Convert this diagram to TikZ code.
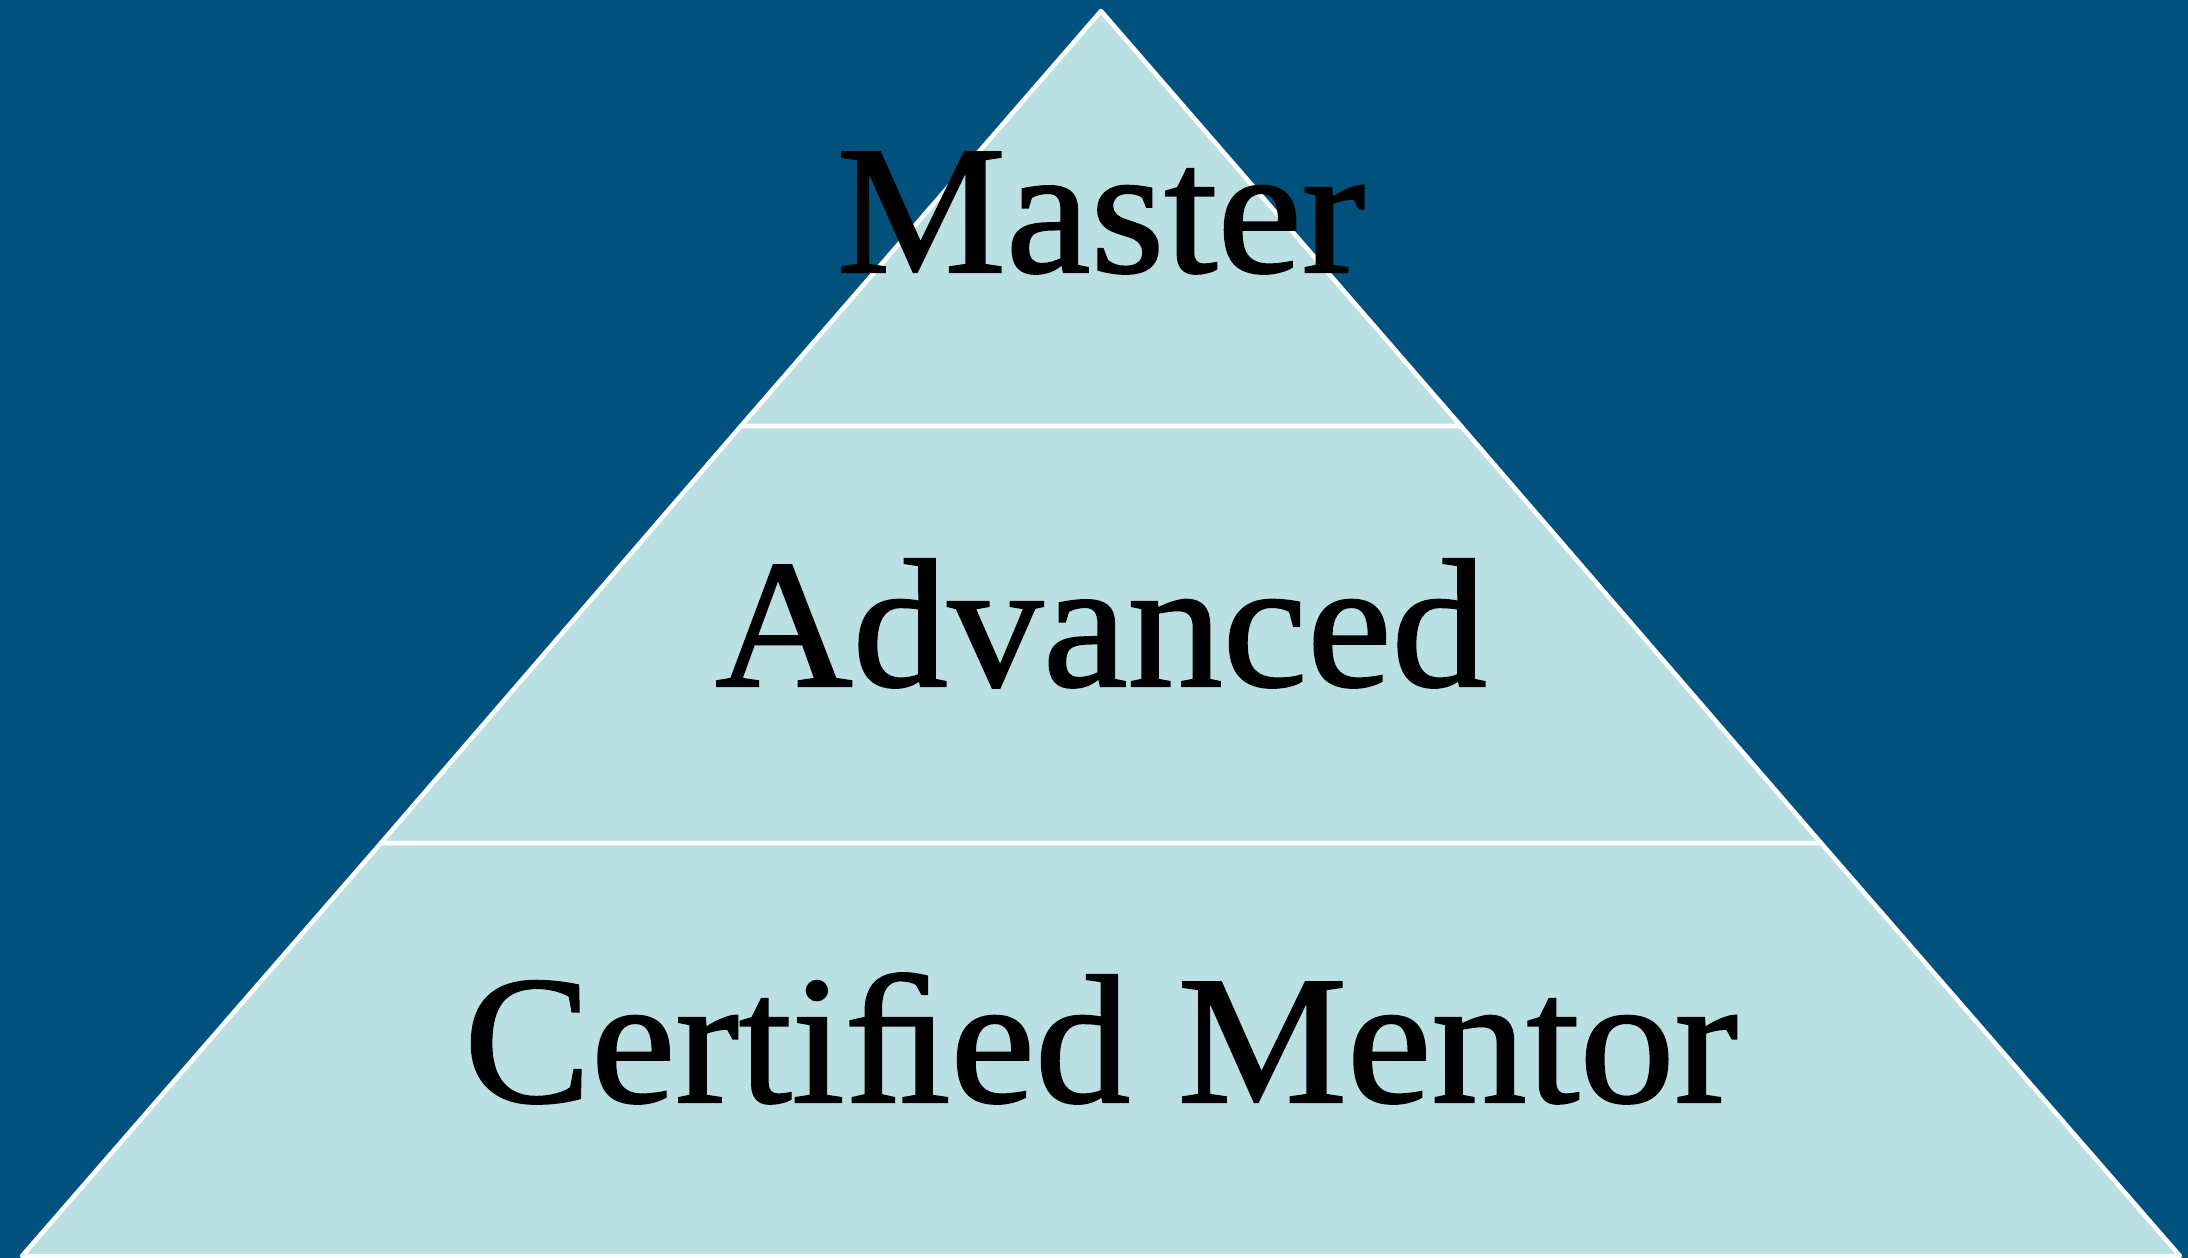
\documentclass[tikz,border=0pt]{standalone}
\usepackage{fontspec}
\setmainfont{Liberation Serif}[FakeStretch=1.04,FakeBold=1.2]
\definecolor{bgblue}{RGB}{0,81,124}
\definecolor{tierfill}{RGB}{186,224,228}
\begin{document}
\begin{tikzpicture}[x=1pt,y=-1pt,
  tier/.style={fill=tierfill,draw=white,line width=4.5pt,line join=round},
  label/.style={anchor=base,inner sep=0pt,font=\fontsize{183}{183}\selectfont,text=black}]
\fill[bgblue] (0,0) rectangle (2188,1258);
\useasboundingbox (0,0) rectangle (2188,1258);
\coordinate (apex) at (1101,11);
\coordinate (bl) at (22,1256);
\coordinate (br) at (2180,1256);
\coordinate (l1) at (741,426);
\coordinate (r1) at (1461,426);
\coordinate (l2) at (381,843);
\coordinate (r2) at (1821,843);
\filldraw[tier] (apex) -- (r1) -- (l1) -- cycle;
\filldraw[tier] (l1) -- (r1) -- (r2) -- (l2) -- cycle;
\filldraw[tier] (l2) -- (r2) -- (br) -- (bl) -- cycle;
\node[label] (master) at (1101,272) {Master};
\node[label] (advanced) at (1101,686) {Advanced};
\node[label] (certified) at (1101,1102) {Certiﬁed Mentor};
\end{tikzpicture}
\end{document}
